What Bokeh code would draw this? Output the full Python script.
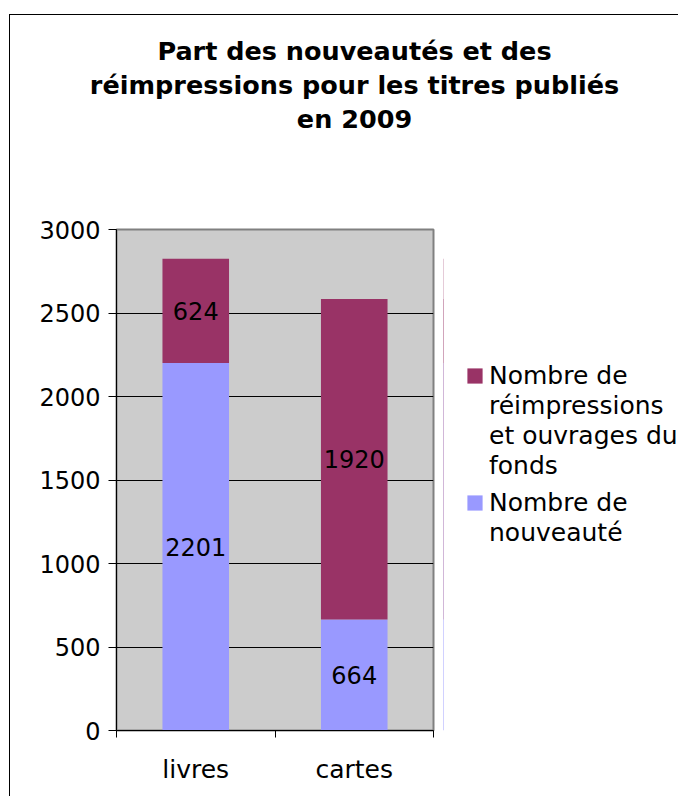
from bokeh.plotting import figure
from bokeh.layouts import column, row
from bokeh.models import (ColumnDataSource, Range1d, FixedTicker, Legend, LegendItem,
                          Label, LabelSet)
from bokeh.core.properties import value
from bokeh.embed import file_html
from bokeh.resources import INLINE

# ---- data ----
title_lines = ["Part des nouveautés et des",
               "réimpressions pour les titres publiés",
               "en 2009"]
categories = ["livres", "cartes"]
nouveautes = [2201, 664]
reimpressions = [624, 1920]
legend_reimp_lines = ["Nombre de", "réimpressions", "et ouvrages du", "fonds"]
legend_nouv_lines = ["Nombre de", "nouveauté"]
y_ticks = [0, 500, 1000, 1500, 2000, 2500, 3000]

COL_NOUV = "#9999FF"
COL_REIMP = "#993366"
FONT = "DejaVu Sans"


def bare(fig):
    fig.xaxis.visible = False
    fig.yaxis.visible = False
    fig.grid.visible = False
    fig.outline_line_color = None
    fig.background_fill_color = "white"
    fig.border_fill_color = "white"
    return fig


# ---------------- title strip ----------------
TW, TH = 668, 135
pt = bare(figure(width=TW, height=TH, output_backend="svg", toolbar_location=None,
                 x_range=Range1d(0, TW), y_range=Range1d(TH, 0), min_border=0))
for i, line in enumerate(title_lines):
    pt.add_layout(Label(x=344, y=35 + 34 * i, text=line, text_align="center",
                        text_baseline="alphabetic", text_font=FONT,
                        text_font_style="bold", text_font_size="25.5px",
                        text_color="black"))

# ---------------- main chart ----------------
xs = [i + 0.5 for i in range(len(categories))]
src = ColumnDataSource(dict(
    x=xs,
    nouv=nouveautes,
    reimp=reimpressions,
    nouv_mid=[n / 2 for n in nouveautes],
    reimp_mid=[n + r / 2 for n, r in zip(nouveautes, reimpressions)],
    nouv_txt=[str(n) for n in nouveautes],
    reimp_txt=[str(r) for r in reimpressions],
))

p = figure(width=433, height=646, output_backend="svg", toolbar_location=None,
           x_range=Range1d(0, len(categories)), y_range=Range1d(0, 3000),
           min_border_left=106, min_border_right=10, min_border_top=79,
           min_border_bottom=66)
p.background_fill_color = "#CCCCCC"
p.border_fill_color = "white"
p.outline_line_color = "#808080"
p.outline_line_width = 2

p.vbar_stack(["nouv", "reimp"], x="x", width=0.42, source=src,
             color=[COL_NOUV, COL_REIMP], line_color=None)

for col_y, col_t in (("nouv_mid", "nouv_txt"), ("reimp_mid", "reimp_txt")):
    p.add_layout(LabelSet(x="x", y=col_y, text=col_t, source=src,
                          text_align="center", text_baseline="middle",
                          text_font=value(FONT), text_font_size="24px",
                          text_color="black"))

p.xgrid.visible = False
p.ygrid.ticker = FixedTicker(ticks=y_ticks)
p.ygrid.grid_line_color = "black"
p.ygrid.grid_line_width = 1

ya = p.yaxis[0]
ya.ticker = FixedTicker(ticks=y_ticks)
ya.major_tick_out = 8
ya.major_tick_in = 0
ya.minor_tick_line_color = None
ya.axis_line_color = "black"
ya.major_tick_line_color = "black"
ya.major_label_text_font = FONT
ya.major_label_text_font_size = "24px"
ya.major_label_text_color = "black"
ya.major_label_standoff = 8

xa = p.xaxis[0]
xa.ticker = FixedTicker(ticks=xs, minor_ticks=list(range(len(categories) + 1)))
xa.major_label_overrides = {x: c for x, c in zip(xs, categories)}
xa.major_tick_line_color = None
xa.major_tick_out = 0
xa.major_tick_in = 0
xa.minor_tick_out = 7
xa.minor_tick_in = 0
xa.minor_tick_line_color = "black"
xa.axis_line_color = "black"
xa.major_label_text_font = FONT
xa.major_label_text_font_size = "25px"
xa.major_label_text_color = "black"
xa.major_label_standoff = 17

# ---------------- legend strip ----------------
LW, LH = 235, 646
pl = bare(figure(width=LW, height=LH, output_backend="svg", toolbar_location=None,
                 x_range=Range1d(10, 11), y_range=Range1d(0, 3000), min_border=0))
# swatch renderers share the chart's data; zero width and outside this strip's range
sw_nouv, sw_reimp = pl.vbar_stack(["nouv", "reimp"], x="x", width=0, source=src,
                                  color=[COL_NOUV, COL_REIMP], line_color=None)
sw_none = pl.vbar(x=[], top=[], width=0.5, fill_alpha=0, line_alpha=0)

legend_style = dict(label_text_font=FONT, label_text_font_size="25px",
                    label_text_color="black", glyph_width=19, glyph_height=19,
                    label_standoff=5, label_height=30, spacing=0, padding=0, margin=0,
                    border_line_color=None, background_fill_alpha=0)


def legend_items(lines, swatch):
    return [LegendItem(label=t, renderers=[swatch if i == 0 else sw_none])
            for i, t in enumerate(lines)]


pl.add_layout(Legend(items=legend_items(legend_reimp_lines, sw_reimp),
                     location=(22, 250), **legend_style), "center")
pl.add_layout(Legend(items=legend_items(legend_nouv_lines, sw_nouv),
                     location=(22, 183), **legend_style), "center")

layout = column(pt, row(p, pl, spacing=0), spacing=0, margin=(14, 0, 0, 9),
                styles={"border-left": "1px solid black", "border-top": "1px solid black"})

open("out.html", "w").write(file_html(layout, INLINE))
